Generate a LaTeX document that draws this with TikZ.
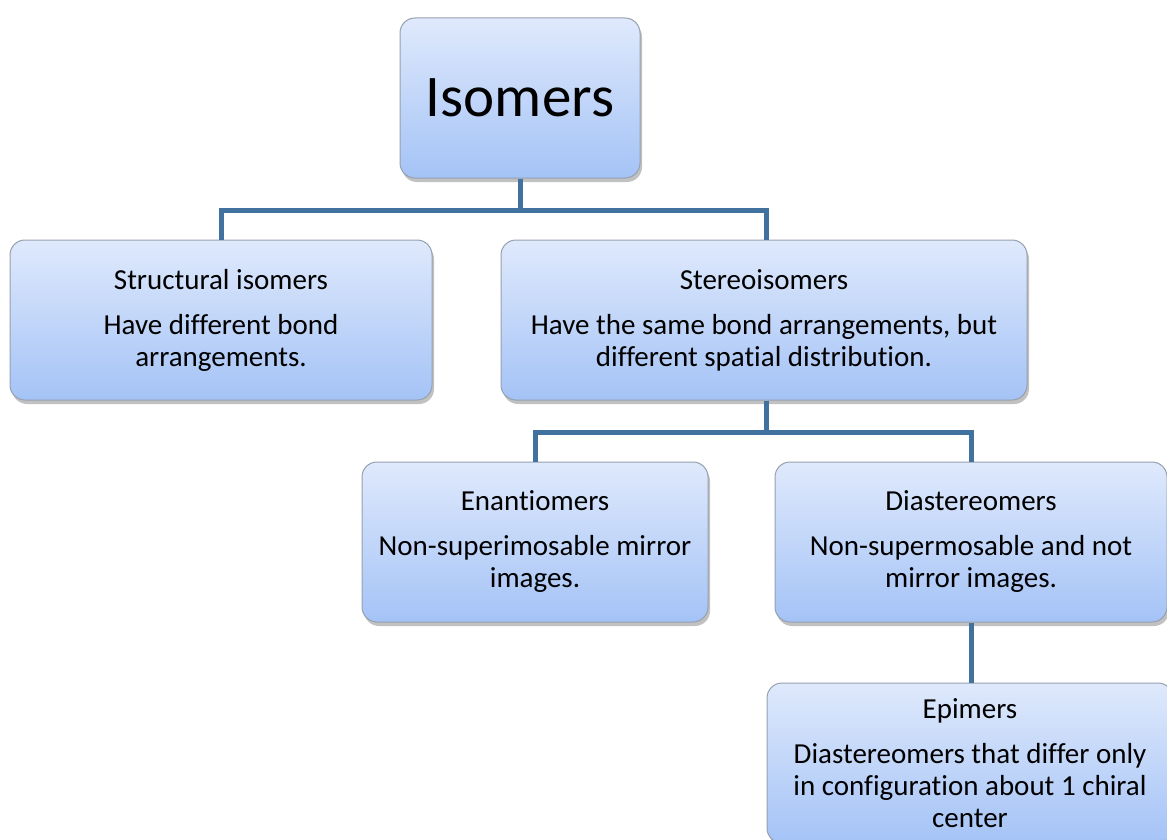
\documentclass[tikz,border=0pt]{standalone}
\usepackage{fontspec}
\setmainfont[Ligatures=NoCommon]{Carlito}
\usetikzlibrary{shadows}
\definecolor{boxtop}{RGB}{223,233,252}
\definecolor{boxbot}{RGB}{164,195,246}
\definecolor{boxline}{RGB}{150,160,175}
\definecolor{conncol}{RGB}{65,113,158}
\tikzset{
  box/.style={draw=boxline, line width=1pt, rounded corners=15pt,
    top color=boxtop, bottom color=boxbot, align=center,
    font=\fontsize{29}{32}\selectfont, inner sep=0pt,
    drop shadow={shadow xshift=2pt, shadow yshift=-4pt, opacity=0.35, fill=black!70}},
  conn/.style={draw=conncol, line width=5pt}
}
\begin{document}
\begin{tikzpicture}[x=1pt,y=-1pt]
\useasboundingbox (0,0) rectangle (1167,840);
\clip (0,0) rectangle (1167,840);
\node[box, minimum width=240pt, minimum height=160pt, font=\fontsize{59}{70}\selectfont] (iso) at (520,98) {Isomers};
\node[box, minimum width=422pt, minimum height=160pt] (struct) at (221,320) {Structural isomers\\[13pt]Have different bond\\arrangements.};
\node[box, minimum width=526pt, minimum height=160pt] (stereo) at (764,320) {Stereoisomers\\[13pt]Have the same bond arrangements, but\\different spatial distribution.};
\node[box, minimum width=346pt, minimum height=160pt] (enan) at (535,542) {Enantiomers\\[13pt]Non-superimosable mirror\\images.};
\node[box, minimum width=392pt, minimum height=160pt] (dia) at (971,542) {Diastereomers\\[13pt]Non-supermosable and not\\mirror images.};
\node[box, minimum width=406pt, minimum height=160pt] (epi) at (970,763) {Epimers\\[13pt]Diastereomers that differ only\\in configuration about 1 chiral\\center};
\draw[conn] (iso.south) -- ++(0,32) -| (struct.north);
\draw[conn] (iso.south) -- ++(0,32) -| ([xshift=2pt]stereo.north);
\draw[conn] ([xshift=2pt]stereo.south) -- ++(0,32) -| (enan.north);
\draw[conn] ([xshift=2pt]stereo.south) -- ++(0,32) -| (dia.north);
\draw[conn] (dia.south) -- (dia.south |- epi.north);
\end{tikzpicture}
\end{document}
